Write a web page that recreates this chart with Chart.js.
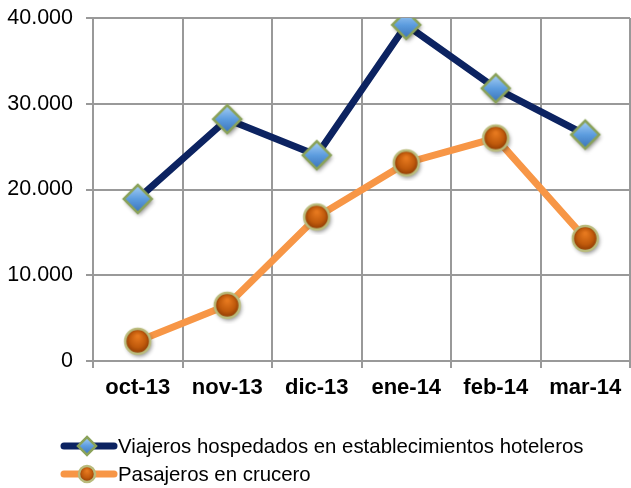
<!DOCTYPE html>
<html>
<head>
<meta charset="utf-8">
<script src="https://cdn.jsdelivr.net/npm/chart.js@4"></script>
<style>
  html, body { margin: 0; padding: 0; background: #fff; }
  #wrap { position: relative; width: 631px; height: 488px; }
  #legend {
    position: absolute; left: 60px; top: 432px;
    font-family: 'Liberation Sans', Arial, sans-serif; font-size: 20.4px; color: #000;
  }
  .row { display: flex; align-items: center; height: 28px; }
  .row canvas { margin-right: 0; }
</style>
</head>
<body>
<div id="wrap">
  <canvas id="chart" width="631" height="488"></canvas>
  <div id="legend"></div>
</div>
<script>
// Datos del gráfico
const categories = ['oct-13', 'nov-13', 'dic-13', 'ene-14', 'feb-14', 'mar-14'];
const viajeros = [18900, 28200, 24000, 39200, 31800, 26400];
const pasajeros = [2300, 6500, 16800, 23100, 26000, 14300];
const yTicks = [0, 10000, 20000, 30000, 40000];
const seriesNames = ['Viajeros hospedados en establecimientos hoteleros', 'Pasajeros en crucero'];

const FONT = "'Liberation Sans', Arial, sans-serif";

// Marcador en forma de rombo (azul con borde verde)
function makeDiamond(r, shadow) {
  const size = 2 * r + 12;
  const c = document.createElement('canvas');
  c.width = size; c.height = size;
  const ctx = c.getContext('2d');
  ctx.translate(size / 2, size / 2);
  if (shadow) {
    ctx.shadowColor = 'rgba(0,0,0,0.45)';
    ctx.shadowBlur = 4;
    ctx.shadowOffsetX = 1.5;
    ctx.shadowOffsetY = 2.5;
  }
  const g = ctx.createLinearGradient(0, -r, 0, r);
  g.addColorStop(0, '#a9d0f5');
  g.addColorStop(0.5, '#5d9ddf');
  g.addColorStop(1, '#3a72b8');
  ctx.beginPath();
  ctx.moveTo(0, -r); ctx.lineTo(r, 0); ctx.lineTo(0, r); ctx.lineTo(-r, 0);
  ctx.closePath();
  ctx.fillStyle = g;
  ctx.fill();
  ctx.shadowColor = 'transparent';
  ctx.lineWidth = 2.5;
  ctx.strokeStyle = '#8aa25a';
  ctx.stroke();
  return c;
}

// Marcador circular (naranja oscuro con borde claro)
function makeCircle(r, shadow) {
  const size = 2 * r + 12;
  const c = document.createElement('canvas');
  c.width = size; c.height = size;
  const ctx = c.getContext('2d');
  ctx.translate(size / 2, size / 2);
  if (shadow) {
    ctx.shadowColor = 'rgba(0,0,0,0.45)';
    ctx.shadowBlur = 4;
    ctx.shadowOffsetX = 1.5;
    ctx.shadowOffsetY = 2.5;
  }
  const g = ctx.createRadialGradient(0, -r * 0.4, r * 0.1, 0, 0, r);
  g.addColorStop(0, '#e5781e');
  g.addColorStop(0.6, '#c05a0c');
  g.addColorStop(1, '#8c3a04');
  ctx.beginPath();
  ctx.arc(0, 0, r, 0, Math.PI * 2);
  ctx.fillStyle = g;
  ctx.fill();
  ctx.shadowColor = 'transparent';
  ctx.lineWidth = 2.5;
  ctx.strokeStyle = '#b9bb7c';
  ctx.stroke();
  return c;
}

function formatNum(v) {
  return String(v).replace(/\B(?=(\d{3})+(?!\d))/g, '.');
}

const colors = ['#0c2361', '#f79646'];
const markers = [makeDiamond(14, true), makeCircle(12.5, true)];

const chart = new Chart(document.getElementById('chart'), {
  type: 'line',
  data: {
    labels: categories,
    datasets: [{
      label: seriesNames[0],
      data: viajeros,
      borderColor: colors[0],
      borderWidth: 7,
      pointStyle: markers[0],
      pointRadius: 14
    }, {
      label: seriesNames[1],
      data: pasajeros,
      borderColor: colors[1],
      borderWidth: 7,
      pointStyle: markers[1],
      pointRadius: 13
    }]
  },
  options: {
    responsive: false,
    devicePixelRatio: 1,
    animation: false,
    layout: { autoPadding: false, padding: { top: 18, right: 1, left: 0, bottom: 0 } },
    plugins: { legend: { display: false }, tooltip: { enabled: false } },
    scales: {
      x: {
        offset: true,
        afterFit: s => { s.height = 127; s.paddingLeft = 0; s.paddingRight = 0; },
        grid: { offset: true, color: '#999', lineWidth: 2, tickLength: 7 },
        border: { color: '#999', width: 2 },
        ticks: { color: '#000', padding: 7, font: { family: FONT, size: 22, weight: 'bold' } }
      },
      y: {
        min: 0,
        max: 40000,
        afterFit: s => { s.width = 93; s.paddingTop = 0; s.paddingBottom = 0; },
        afterBuildTicks: s => { s.ticks = yTicks.map(v => ({ value: v })); },
        grid: { color: '#999', lineWidth: 2, tickLength: 7 },
        border: { color: '#999', width: 2 },
        ticks: {
          color: '#000', padding: 13,
          font: { family: FONT, size: 21.5 },
          callback: v => formatNum(v)
        }
      }
    }
  }
});

// Leyenda en HTML debajo del gráfico
function buildLegend() {
  const legend = document.getElementById('legend');
  const small = [makeDiamond(9, false), makeCircle(8, false)];
  seriesNames.forEach((name, i) => {
    const row = document.createElement('div');
    row.className = 'row';
    const sw = document.createElement('canvas');
    sw.width = 58; sw.height = 26;
    const ctx = sw.getContext('2d');
    ctx.strokeStyle = colors[i];
    ctx.lineWidth = 7;
    ctx.lineCap = 'round';
    ctx.beginPath();
    ctx.moveTo(4, 13); ctx.lineTo(54, 13);
    ctx.stroke();
    const m = small[i];
    ctx.drawImage(m, 27 - m.width / 2, 13 - m.height / 2);
    row.appendChild(sw);
    const span = document.createElement('span');
    span.textContent = name;
    row.appendChild(span);
    legend.appendChild(row);
  });
}

buildLegend();
</script>
</body>
</html>
